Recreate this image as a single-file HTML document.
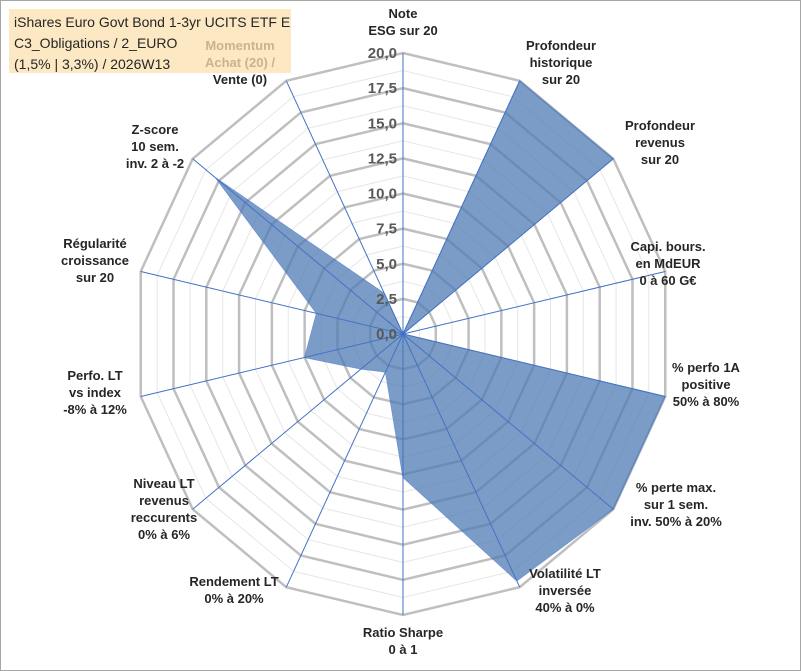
<!DOCTYPE html>
<html><head><meta charset="utf-8"><style>
body{margin:0;background:#fff;font-family:"Liberation Sans",sans-serif}
#wrap{position:relative;width:801px;height:671px;overflow:hidden}
svg text{font-family:"Liberation Sans",sans-serif;font-weight:bold;font-size:13px;fill:#262626}
</style></head><body>
<div id="wrap">
<svg id="chart" width="801" height="671">
<rect x="0.5" y="0.5" width="800" height="670" fill="#fff" stroke="#a6a6a6"/>
<rect x="9" y="9" width="282" height="64" fill="#fce4b8" opacity="0.85"/>
<text x="14" y="27" style="font-weight:normal;font-size:14px">iShares Euro Govt Bond 1-3yr UCITS ETF E</text>
<text x="14" y="48" style="font-weight:normal;font-size:14px">C3_Obligations / 2_EURO</text>
<text x="14" y="69" style="font-weight:normal;font-size:14px">(1,5% | 3,3%) / 2026W13</text>
</svg>
</div>
<script>
const categories=[["Note","ESG sur 20"],["Profondeur","historique","sur 20"],["Profondeur","revenus","sur 20"],["Capi. bours.","en MdEUR","0 à 60 G€"],["% perfo 1A","positive","50% à 80%"],["% perte max.","sur 1 sem.","inv. 50% à 20%"],["Volatilité LT","inversée","40% à 0%"],["Ratio Sharpe","0 à 1"],["Rendement LT","0% à 20%"],["Niveau LT","revenus","reccurents","0% à 6%"],["Perfo. LT","vs index","-8% à 12%"],["Régularité","croissance","sur 20"],["Z-score","10 sem.","inv. 2 à -2"],["Momentum","Achat (20) /","Vente (0)"]];
const values=[0,20,20,0,20,20,19.5,10.2,3,4,7.5,6.6,17.8,3.2];
const tickLabels=["0,0","2,5","5,0","7,5","10,0","12,5","15,0","17,5","20,0"];
const maxV=20;
const svg=document.getElementById('chart');const NS='http://www.w3.org/2000/svg';
const cx=403,cy=334,Rx=269,Ry=281,n=categories.length;
function ang(i){return i*2*Math.PI/n;}
function pt(i,v){const f=v/maxV;return [cx+f*Rx*Math.sin(ang(i)),cy-f*Ry*Math.cos(ang(i))];}
function mk(t,a,name){const e=document.createElementNS(NS,t);for(const k in a)e.setAttribute(k,a[k]);


svg.appendChild(e);return e;}
for(let k=1;k<=16;k++){const v=k*maxV/16;const p=[];for(let i=0;i<n;i++)p.push(pt(i,v).join(','));
mk('polygon',{points:p.join(' '),fill:'none',stroke:k%2?'#e6e6e6':'#bfbfbf','stroke-width':k%2?1:2.5},k%2?'minor-gridline':'major-gridline');}
const sp=values.map((v,i)=>pt(i,v).join(',')).join(' ');
mk('polygon',{points:sp,fill:'#4f7cb3',opacity:0.75,stroke:'#4472c4','stroke-width':1},'series-area');
for(let i=0;i<n;i++){const p=pt(i,maxV);mk('line',{x1:cx,y1:cy,x2:p[0],y2:p[1],stroke:'#4472c4','stroke-width':1},'axis-spoke');}
tickLabels.forEach((t,k)=>{const y=cy-k*Ry/(tickLabels.length-1);const e=mk('text',{x:cx-6,y:y+5,'text-anchor':'end',style:'font-size:15px;fill:#595959'},'tick-label');e.textContent=t;});
const labelPos=[[403,18],[561,50],[660,130],[668,251],[706,372],[676,492],[565,578],[403,637],[234,586],[164,488],[95,380],[95,248],[155,134],[240,50]];
categories.forEach((c,i)=>{const [x,y]=labelPos[i];c.forEach((line,j)=>{
const col=(i==13&&j<2)?'#c9b48a':'#262626';
const e=mk('text',{x:x,y:y+j*17,'text-anchor':'middle',style:'fill:'+col},'category-label');e.textContent=line;});});
</script>
</body></html>
